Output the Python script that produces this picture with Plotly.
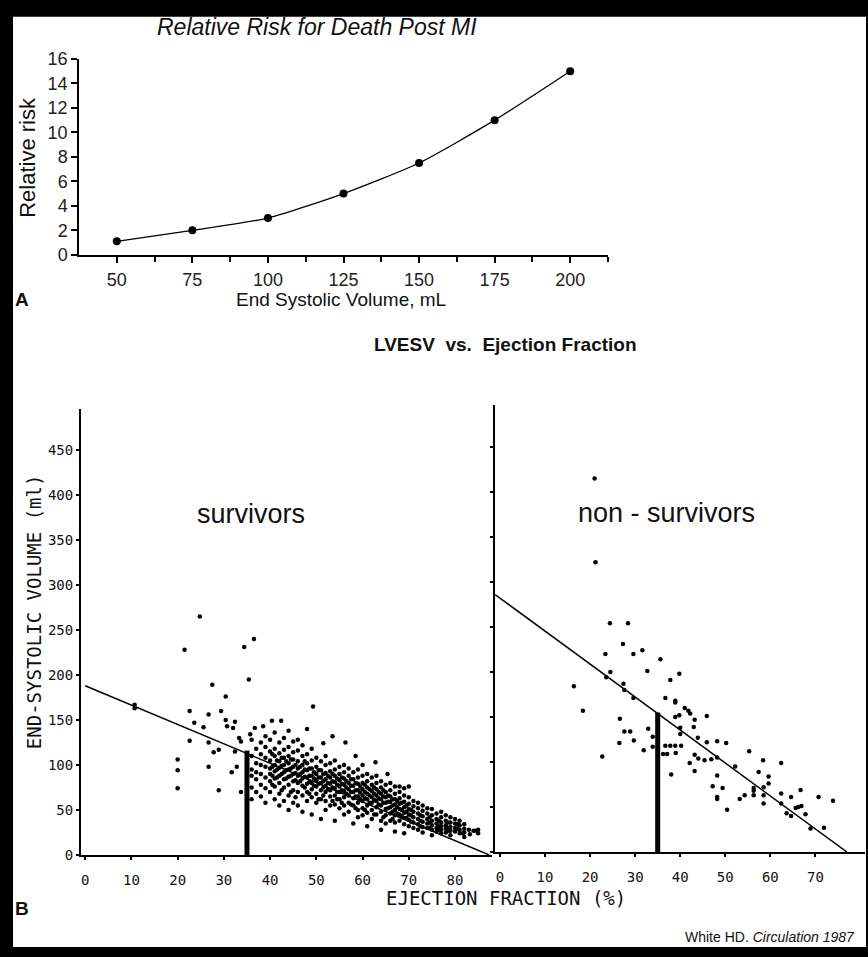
import plotly.graph_objects as go

W, H = 868, 957


def px(x):
    return x / W


def py(y):
    return 1 - y / H


# ---------------- Panel A data ----------------
esv_ml = [50, 75, 100, 125, 150, 175, 200]
relative_risk = [1.1, 2.0, 3.0, 5.0, 7.5, 11.0, 15.0]
a_xticks = [50, 75, 100, 125, 150, 175, 200]
a_minor = [62.5, 87.5, 112.5, 137.5, 162.5, 187.5, 212.5]
a_yticks = [0, 2, 4, 6, 8, 10, 12, 14, 16]

# ---------------- Panel B data ----------------
survivors_points = [
    (10.7, 163), (10.7, 167), (20, 106), (20, 94), (20, 74), (21.5, 228), (22.6, 160),
    (22.6, 127), (23.6, 147), (24.8, 265), (25.6, 142), (26.7, 156), (26.7, 125),
    (26.7, 98), (27.5, 189), (27.8, 114), (28.9, 117), (28.9, 72), (29.4, 160),
    (30.4, 176), (30.4, 150), (30.7, 143), (31.7, 92), (32, 141), (32.4, 148),
    (32.4, 115), (32.8, 98), (33.3, 130), (33.7, 126), (33.7, 70), (34.4, 231),
    (35.4, 195), (35.7, 134), (36.5, 240), (36.7, 141), (38.5, 143), (40.4, 149),
    (42.4, 149), (49.3, 165), (53.5, 132), (56.3, 125), (51.5, 124), (58.5, 110),
    (62.8, 103), (65.4, 90), (84.6, 27), (83.2, 23), (81.7, 24),
    (36, 128), (36, 110), (36, 95), (36, 88), (36, 75), (36, 62),
    (37, 118), (37, 102), (37, 92), (37, 84), (37, 70),
    (38, 125), (38, 112), (38, 100), (38, 90), (38, 78), (38, 65),
    (39, 132), (39, 120), (39, 108), (39, 98), (39, 86), (39, 74), (39, 58),
    (40, 128), (40, 115), (40, 105), (40, 96), (40, 90), (40, 82), (40, 70),
    (41, 136), (41, 118), (41, 110), (41, 100), (41, 93), (41, 85), (41, 76), (41, 62),
    (42, 125), (42, 113), (42, 104), (42, 97), (42, 88), (42, 80), (42, 68), (42, 55),
    (43, 130), (43, 117), (43, 108), (43, 100), (43, 92), (43, 84), (43, 75), (43, 60),
    (44, 138), (44, 120), (44, 110), (44, 102), (44, 95), (44, 87), (44, 78), (44, 66), (44, 50),
    (45, 126), (45, 114), (45, 106), (45, 98), (45, 90), (45, 82), (45, 72), (45, 58),
    (46, 128), (46, 116), (46, 104), (46, 96), (46, 88), (46, 80), (46, 70), (46, 55),
    (47, 122), (47, 110), (47, 100), (47, 92), (47, 85), (47, 77), (47, 66), (47, 48),
    (48, 140), (48, 112), (48, 102), (48, 94), (48, 86), (48, 79), (48, 70), (48, 60),
    (49, 118), (49, 105), (49, 96), (49, 88), (49, 80), (49, 73), (49, 64), (49, 45),
    (50, 108), (50, 98), (50, 90), (50, 83), (50, 76), (50, 68), (50, 58),
    (51, 104), (51, 94), (51, 86), (51, 80), (51, 72), (51, 62), (51, 40),
    (52, 110), (52, 100), (52, 91), (52, 84), (52, 77), (52, 70), (52, 60), (52, 50),
    (53, 102), (53, 93), (53, 86), (53, 79), (53, 72), (53, 65), (53, 55),
    (54, 105), (54, 95), (54, 88), (54, 81), (54, 74), (54, 66), (54, 56), (54, 38),
    (55, 98), (55, 90), (55, 83), (55, 76), (55, 70), (55, 62), (55, 52),
    (56, 100), (56, 92), (56, 85), (56, 78), (56, 71), (56, 64), (56, 55), (56, 45),
    (57, 96), (57, 88), (57, 80), (57, 73), (57, 66), (57, 58), (57, 48),
    (58, 92), (58, 84), (58, 77), (58, 70), (58, 63), (58, 55), (58, 35),
    (59, 95), (59, 86), (59, 79), (59, 72), (59, 65), (59, 58), (59, 50), (59, 42),
    (60, 100), (60, 88), (60, 80), (60, 73), (60, 66), (60, 60), (60, 52), (60, 44),
    (61, 90), (61, 82), (61, 75), (61, 68), (61, 62), (61, 55), (61, 47), (61, 32),
    (62, 86), (62, 78), (62, 71), (62, 64), (62, 58), (62, 50), (62, 40),
    (63, 88), (63, 80), (63, 73), (63, 66), (63, 60), (63, 53), (63, 45),
    (64, 82), (64, 75), (64, 68), (64, 62), (64, 55), (64, 48), (64, 38), (64, 28),
    (65, 78), (65, 70), (65, 64), (65, 58), (65, 51), (65, 44), (65, 35),
    (66, 80), (66, 72), (66, 65), (66, 59), (66, 53), (66, 46), (66, 38),
    (67, 76), (67, 68), (67, 62), (67, 56), (67, 50), (67, 44), (67, 36), (67, 26),
    (68, 76), (68, 70), (68, 63), (68, 57), (68, 51), (68, 45), (68, 38),
    (69, 74), (69, 66), (69, 59), (69, 53), (69, 47), (69, 41), (69, 34), (69, 24),
    (70, 76), (70, 64), (70, 57), (70, 51), (70, 45), (70, 39), (70, 32),
    (71, 60), (71, 54), (71, 48), (71, 42), (71, 36), (71, 30),
    (72, 58), (72, 52), (72, 46), (72, 40), (72, 34), (72, 28),
    (73, 55), (73, 49), (73, 43), (73, 37), (73, 31), (73, 25),
    (74, 52), (74, 46), (74, 40), (74, 35), (74, 30),
    (75, 51), (75, 44), (75, 38), (75, 33), (75, 28), (75, 22),
    (76, 46), (76, 40), (76, 35), (76, 30), (76, 26),
    (77, 48), (77, 42), (77, 36), (77, 32), (77, 28), (77, 24),
    (78, 44), (78, 38), (78, 33), (78, 29), (78, 25),
    (79, 42), (79, 36), (79, 31), (79, 27), (79, 22),
    (80, 40), (80, 35), (80, 30), (80, 26),
    (81, 38), (81, 33), (81, 28), (81, 24),
    (82, 34), (82, 29), (82, 25), (82, 20),
    (83, 28), (84, 27), (85, 28), (85, 24),
    # dense core (half-percent readings)
    (40.5, 112), (40.5, 98), (40.5, 88), (40.5, 78),
    (41.5, 105), (41.5, 95), (41.5, 86),
    (42.5, 108), (42.5, 99), (42.5, 90), (42.5, 72),
    (43.5, 104), (43.5, 94), (43.5, 85),
    (44.5, 106), (44.5, 96), (44.5, 88), (44.5, 70),
    (45.5, 100), (45.5, 91), (45.5, 83), (45.5, 64),
    (46.5, 98), (46.5, 90), (46.5, 82),
    (47.5, 104), (47.5, 95), (47.5, 87), (47.5, 75),
    (48.5, 96), (48.5, 88), (48.5, 81), (48.5, 68),
    (49.5, 92), (49.5, 85), (49.5, 77),
    (50.5, 94), (50.5, 86), (50.5, 79), (50.5, 62),
    (51.5, 90), (51.5, 82), (51.5, 75), (51.5, 66),
    (52.5, 88), (52.5, 80), (52.5, 73),
    (53.5, 90), (53.5, 82), (53.5, 75), (53.5, 60),
    (54.5, 85), (54.5, 78), (54.5, 70), (54.5, 62),
    (55.5, 86), (55.5, 79), (55.5, 72), (55.5, 58),
    (56.5, 82), (56.5, 75), (56.5, 68),
    (57.5, 84), (57.5, 77), (57.5, 70), (57.5, 56),
    (58.5, 80), (58.5, 72), (58.5, 65), (58.5, 52),
    (59.5, 76), (59.5, 69), (59.5, 62),
    (60.5, 78), (60.5, 70), (60.5, 63), (60.5, 50),
    (61.5, 73), (61.5, 66), (61.5, 58),
    (62.5, 75), (62.5, 68), (62.5, 61), (62.5, 45),
    (63.5, 70), (63.5, 63), (63.5, 56),
    (64.5, 72), (64.5, 65), (64.5, 58), (64.5, 42),
    (65.5, 66), (65.5, 59), (65.5, 52),
    (66.5, 62), (66.5, 55), (66.5, 48), (66.5, 40),
    (67.5, 60), (67.5, 53), (67.5, 46),
    (68.5, 58), (68.5, 50), (68.5, 43),
    (69.5, 55), (69.5, 48), (69.5, 41),
    (70.5, 50), (70.5, 44), (70.5, 37),
    (72.5, 44), (72.5, 38), (72.5, 32),
    (74.5, 42), (74.5, 36), (74.5, 30),
    (76.5, 38), (76.5, 32), (76.5, 28),
    (78.5, 36), (78.5, 30), (78.5, 27),
    (80.5, 34), (80.5, 29),
]

nonsurvivors_points = [
    (21.0, 415), (21.2, 322), (24.4, 254), (28.4, 254), (27.3, 231), (23.4, 220),
    (29.6, 220), (31.6, 224), (35.6, 214), (24.5, 200), (32.7, 201), (39.8, 198),
    (23.6, 194), (37.8, 191), (16.4, 184), (27.4, 187), (27.6, 180), (29.6, 171),
    (36.7, 171), (38.9, 168), (38.9, 166), (18.4, 157), (41.0, 160), (41.8, 157),
    (42.2, 154), (39.8, 152), (38.9, 150), (43.2, 147), (45.9, 151), (26.6, 148),
    (27.6, 134), (28.9, 134), (32.9, 137), (40.0, 138), (40.0, 131), (43.0, 139),
    (33.9, 128), (26.5, 121), (29.7, 124), (31.9, 113), (33.9, 117), (36.7, 118),
    (37.8, 118), (38.9, 118), (40.2, 118), (43.9, 127), (45.9, 122), (48.2, 123),
    (50.2, 121), (22.7, 106), (36.2, 109), (37.1, 109), (39.0, 110), (43.2, 108),
    (44.0, 104), (45.4, 102), (46.9, 103), (48.2, 105), (42.1, 99), (43.2, 90),
    (38.0, 86), (52.2, 95), (55.3, 112), (58.4, 102), (62.4, 99), (48.2, 85),
    (57.4, 89), (59.6, 84), (59.6, 76), (47.2, 73), (49.4, 71), (48.2, 61),
    (48.2, 59), (50.4, 47), (53.2, 59), (54.3, 63), (56.3, 71), (56.3, 68),
    (56.3, 63), (58.5, 72), (58.5, 63), (58.5, 54), (62.4, 65), (62.4, 54),
    (64.6, 61), (66.7, 69), (63.6, 43), (64.6, 40), (65.6, 49), (66.2, 50),
    (66.9, 51), (67.8, 42), (68.9, 26), (70.7, 61), (71.9, 27), (73.9, 57),
]

surv_ef = [p[0] for p in survivors_points]
surv_esv = [p[1] for p in survivors_points]
non_ef = [p[0] for p in nonsurvivors_points]
non_esv = [p[1] for p in nonsurvivors_points]

# regression lines (end points)
surv_line_ef = [0, 87.4]
surv_line_esv = [188, 0]
non_line_ef = [-1.1, 77]
non_line_esv = [286, 0]

# EF cut-off bars
surv_bar_ef = [35, 35]
surv_bar_esv = [0, 116]
non_bar_ef = [35, 35]
non_bar_esv = [0, 155]

b_yticks = [0, 50, 100, 150, 200, 250, 300, 350, 400, 450]
b_left_xticks = [0, 10, 20, 30, 40, 50, 60, 70, 80]
b_right_xticks = [0, 10, 20, 30, 40, 50, 60, 70]

ARIAL = "Liberation Sans, Arial, sans-serif"
MONO = "DejaVu Sans Mono, monospace"

fig = go.Figure()

# Panel A
fig.add_trace(go.Scatter(
    x=esv_ml, y=relative_risk, mode="lines+markers",
    line=dict(color="black", width=1.3, shape="spline", smoothing=0.6),
    marker=dict(color="black", size=8),
    xaxis="x", yaxis="y", showlegend=False, cliponaxis=False,
))

# Panel B - survivors
fig.add_trace(go.Scatter(
    x=surv_ef, y=surv_esv, mode="markers",
    marker=dict(color="black", size=4.5),
    xaxis="x2", yaxis="y2", showlegend=False,
))
fig.add_trace(go.Scatter(
    x=surv_line_ef, y=surv_line_esv, mode="lines",
    line=dict(color="black", width=1.5),
    xaxis="x2", yaxis="y2", showlegend=False,
))
fig.add_trace(go.Scatter(
    x=surv_bar_ef, y=surv_bar_esv, mode="lines",
    line=dict(color="black", width=5),
    xaxis="x2", yaxis="y2", showlegend=False,
))

# Panel B - non-survivors
fig.add_trace(go.Scatter(
    x=non_ef, y=non_esv, mode="markers",
    marker=dict(color="black", size=4.5),
    xaxis="x3", yaxis="y3", showlegend=False,
))
fig.add_trace(go.Scatter(
    x=non_line_ef, y=non_line_esv, mode="lines",
    line=dict(color="black", width=1.5),
    xaxis="x3", yaxis="y3", showlegend=False, cliponaxis=False,
))
fig.add_trace(go.Scatter(
    x=non_bar_ef, y=non_bar_esv, mode="lines",
    line=dict(color="black", width=5),
    xaxis="x3", yaxis="y3", showlegend=False,
))

axis_common = dict(showgrid=False, zeroline=False, showline=True,
                   linecolor="black", ticks="outside", tickcolor="black")

fig.update_layout(
    width=W, height=H,
    margin=dict(l=0, r=0, t=0, b=0),
    paper_bgcolor="black",
    plot_bgcolor="white",
    xaxis=dict(domain=[px(79), px(608)], range=[37.5, 212.5], anchor="y",
               tickvals=a_xticks, ticklen=6, linewidth=1.5, tickwidth=1.5,
               minor=dict(tickvals=a_minor, ticklen=5, tickwidth=1.5, ticks="outside", tickcolor="black"),
               tickfont=dict(family=ARIAL, size=18, color="#222"),
               ticklabelstandoff=2,
               **axis_common),
    yaxis=dict(domain=[py(250), py(50)], range=[0, 16], anchor="x",
               tickvals=a_yticks, ticklen=6, linewidth=1.5, tickwidth=1.5,
               tickfont=dict(family=ARIAL, size=18, color="#222"),
               **axis_common),
    xaxis2=dict(domain=[px(81), px(492)], range=[-0.9, 88], anchor="y2",
                tickvals=b_left_xticks, ticklen=3, linewidth=2, tickwidth=2,
                tickfont=dict(family=MONO, size=14, color="#111"),
                ticklabelstandoff=8,
                **axis_common),
    yaxis2=dict(domain=[py(863), py(408)], range=[0, 495], anchor="x2",
                tickvals=b_yticks, ticklen=3, linewidth=2, tickwidth=2,
                tickfont=dict(family=MONO, size=14, color="#111"),
                **axis_common),
    xaxis3=dict(domain=[px(495), px(865)], range=[-1.1, 81], anchor="y3",
                tickvals=b_right_xticks, ticklen=3, linewidth=2, tickwidth=2,
                tickfont=dict(family=MONO, size=14, color="#111"),
                ticklabelstandoff=8,
                **axis_common),
    yaxis3=dict(domain=[py(860), py(403)], range=[0, 497], anchor="x3",
                tickvals=b_yticks, ticklen=3, linewidth=2, tickwidth=2,
                showticklabels=False,
                **axis_common),
    shapes=[dict(type="rect", xref="paper", yref="paper", layer="below",
                 x0=px(13), x1=px(866), y0=0, y1=py(7),
                 fillcolor="white", line=dict(width=0))],
)


def note(text, x, y, size, family=ARIAL, xanchor="center", yanchor="middle", angle=0, color="#111"):
    fig.add_annotation(text=text, x=px(x), y=py(y), xref="paper", yref="paper",
                       showarrow=False, xanchor=xanchor, yanchor=yanchor, textangle=angle,
                       font=dict(family=family, size=size, color=color))


note("<i>Relative Risk for Death Post MI</i>", 317, 17, 23)
note("Relative risk", 28, 151, 22, angle=-90)
note("End Systolic Volume, mL", 341, 296, 19)
note("<b>A</b>", 22, 296, 19)

note("<b>LVESV  vs.  Ejection Fraction</b>", 505, 342, 19)
note("survivors", 251, 515, 27)
note("non - survivors", 666, 514, 27)
note("END-SYSTOLIC VOLUME (ml)", 34, 615, 19, family=MONO, angle=-90)
note("EJECTION FRACTION (%)", 506, 907, 19, family=MONO)
note("<b>B</b>", 22, 918, 19)
note("White HD. <i>Circulation 1987</i>", 857, 947, 14, xanchor="right")

# make the page exactly the size of the figure (no default body margin)
fig.write_html(
    "out.html",
    config={"displayModeBar": False},
    post_script=(
        "document.documentElement.style.margin='0';"
        "document.documentElement.style.padding='0';"
        "document.body.style.margin='0';"
        "document.body.style.padding='0';"
        "document.body.style.overflow='hidden';"
        "document.documentElement.style.overflow='hidden';"
        "window.scrollTo(0,0);"
    ),
)
